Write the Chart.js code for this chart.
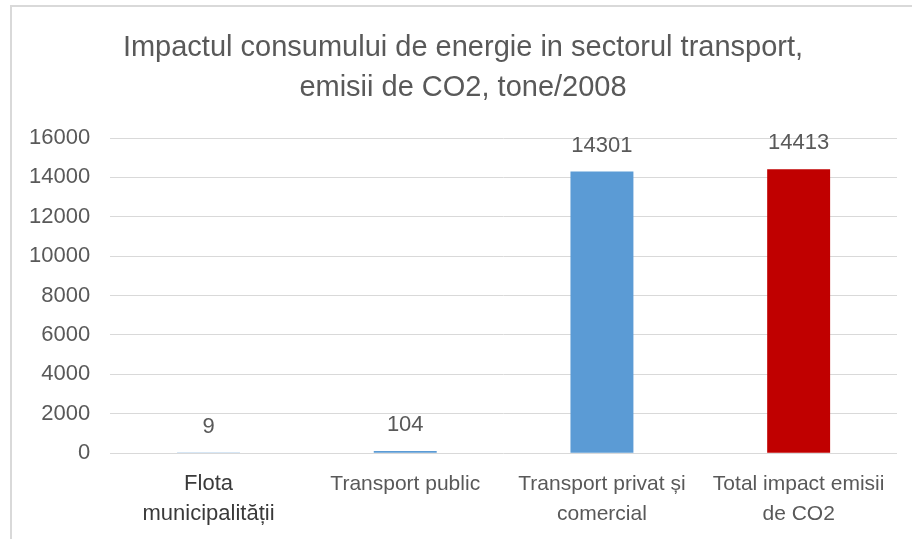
<!DOCTYPE html>
<html>
<head>
<meta charset="utf-8">
<script src="https://cdn.jsdelivr.net/npm/chart.js@4.4.0/dist/chart.umd.min.js"></script>
<style>
    html, body { margin: 0; padding: 0; background: #fff; }
    #wrap { position: relative; width: 912px; height: 539px; overflow: hidden; }
    #frame {
        position: absolute; left: 10px; top: 5px; width: 960px; height: 600px;
        border-top: 2px solid #d9d9d9; border-left: 2px solid #d9d9d9;
        pointer-events: none;
    }
</style>
</head>
<body>
<div id="wrap">
    <canvas id="chart" width="912" height="539"></canvas>
    <div id="frame"></div>
</div>
<script>
// --- data ---
const titleLines = ["Impactul consumului de energie in sectorul transport,", "emisii de CO2, tone/2008"];
const categories = [
    ["Flota", "municipalității"],
    "Transport public",
    ["Transport privat și", "comercial"],
    ["Total impact emisii", "de CO2"]
];
const emissions = [9, 104, 14301, 14413];
const barColors = ['#5B9BD5', '#5B9BD5', '#5B9BD5', '#C00000'];
const yTicks = [0, 2000, 4000, 6000, 8000, 10000, 12000, 14000, 16000];

const textGray = '#595959';
const fontFam = "'Liberation Sans', Arial, sans-serif";

// title drawn by hand (centered on the frame, not the canvas)
const titlePlugin = {
    id: 'titlePlugin',
    afterDraw(chart) {
        const ctx = chart.ctx;
        ctx.save();
        ctx.fillStyle = textGray;
        ctx.font = "29px " + fontFam;
        ctx.textAlign = 'center';
        ctx.textBaseline = 'middle';
        titleLines.forEach((t, i) => ctx.fillText(t, 463, 48 + i * 40));
        ctx.restore();
    }
};

// value labels above bars
const valueLabels = {
    id: 'valueLabels',
    afterDatasetsDraw(chart) {
        const ctx = chart.ctx;
        const meta = chart.getDatasetMeta(0);
        ctx.save();
        ctx.fillStyle = textGray;
        ctx.font = "22px " + fontFam;
        ctx.textAlign = 'center';
        ctx.textBaseline = 'middle';
        meta.data.forEach((bar, i) => {
            ctx.fillText(String(emissions[i]), bar.x, bar.y - 26);
        });
        ctx.restore();
    }
};

new Chart(document.getElementById('chart'), {
    type: 'bar',
    data: {
        labels: categories,
        datasets: [{
            data: emissions,
            backgroundColor: barColors,
            categoryPercentage: 1,
            barPercentage: 0.32
        }]
    },
    options: {
        responsive: false,
        animation: false,
        layout: { padding: { left: 9, right: 15, top: 138, bottom: -6 } },
        plugins: {
            legend: { display: false },
            tooltip: { enabled: false },
            title: { display: false }
        },
        scales: {
            y: {
                min: 0,
                max: 16000,
                afterBuildTicks: axis => { axis.ticks = yTicks.map(v => ({ value: v })); },
                grid: { color: '#d9d9d9', drawTicks: false, lineWidth: 1 },
                border: { display: false },
                ticks: {
                    color: textGray,
                    padding: 20,
                    callback: v => String(v),
                    font: { family: fontFam, size: 22 }
                }
            },
            x: {
                grid: { display: false, drawTicks: false },
                border: { display: false },
                ticks: {
                    color: ctx => ctx.index === 0 ? '#3a3a3a' : textGray,
                    padding: 16,
                    maxRotation: 0,
                    autoSkip: false,
                    font: ctx => ctx.index === 0
                        ? { family: fontFam, size: 22, lineHeight: 1.36 }
                        : { family: fontFam, size: 21, lineHeight: 1.42 }
                }
            }
        }
    },
    plugins: [valueLabels, titlePlugin]
});
</script>
</body>
</html>
